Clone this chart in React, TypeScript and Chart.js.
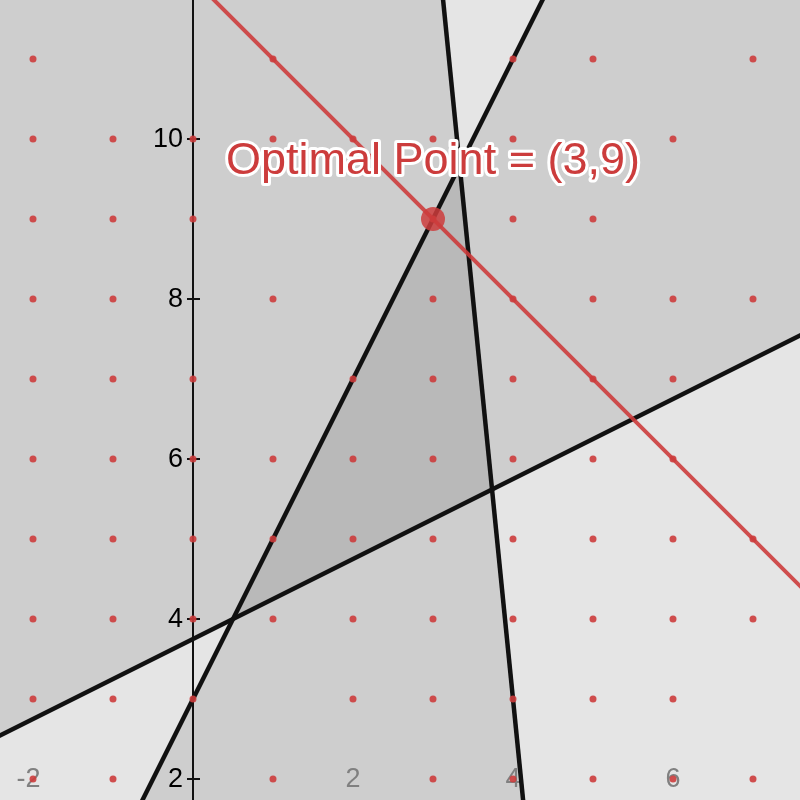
import React, { useEffect, useRef } from 'react';
import { Chart, registerables } from 'chart.js';

Chart.register(...registerables);

// Visible window (data units)
const X_RANGE: number[] = [-2.4125, 7.5875];
const Y_RANGE: number[] = [1.7375, 11.7375];

// Lattice dots: one row per y value, with the x values that carry a dot
const dotRowY: number[] = [11, 10, 9, 8, 7, 6, 5, 4, 3, 2];
const dotRowX: number[][] = [
  [-2, 1, 4, 5, 7],
  [-2, -1, 0, 1, 2, 3, 4, 6],
  [-2, -1, 0, 3, 4, 5],
  [-2, -1, 1, 3, 4, 5, 6, 7],
  [-2, -1, 0, 2, 3, 4, 5, 6],
  [-2, -1, 0, 1, 2, 3, 4, 5, 6],
  [-2, -1, 0, 1, 2, 3, 4, 5, 6, 7],
  [-2, -1, 0, 1, 2, 3, 4, 5, 6, 7],
  [-2, -1, 0, 2, 3, 4, 5, 6],
  [-2, -1, 1, 3, 4, 5, 6, 7],
];

// Constraint lines (end points) : y = 2x + 3, y = 0.5x + 3.75, 10x + y = 43
const lineAX: number[] = [-3, 8];
const lineAY: number[] = [-3, 19];
const lineBX: number[] = [-3, 8];
const lineBY: number[] = [2.25, 7.75];
const lineCX: number[] = [-3, 5];
const lineCY: number[] = [73, -7];
// Objective line x + y = 12
const objX: number[] = [-3, 9];
const objY: number[] = [15, 3];

// Optimal point
const optimalX: number[] = [3];
const optimalY: number[] = [9];
const optimalLabel = 'Optimal Point = (3,9)';

// Axis labels
const yTicks: number[] = [2, 4, 6, 8, 10];
const xTickLabels: number[] = [-2, 2, 4, 6];
const xLabelRowY = 2;

const RED = 'rgba(204, 60, 60, 0.9)';
const SHADE = 'rgba(0, 0, 0, 0.1)';
const FONT = '"Liberation Sans", Arial, sans-serif';

const pts = (xs: number[], ys: number[]) => xs.map((x, i) => ({ x, y: ys[i] }));

const axesPlugin = {
  id: 'customAxes',
  beforeDatasetsDraw(chart: any) {
    const { ctx, chartArea } = chart;
    const xs = chart.scales.x;
    const ys = chart.scales.y;
    const x0 = xs.getPixelForValue(0);
    ctx.save();
    ctx.strokeStyle = '#111';
    ctx.lineWidth = 2;
    ctx.beginPath();
    ctx.moveTo(x0, chartArea.top);
    ctx.lineTo(x0, chartArea.bottom);
    ctx.stroke();
    ctx.font = `27px ${FONT}`;
    ctx.textAlign = 'right';
    ctx.textBaseline = 'middle';
    ctx.fillStyle = '#000';
    for (const t of yTicks) {
      const py = ys.getPixelForValue(t);
      ctx.beginPath();
      ctx.moveTo(x0 - 6, py);
      ctx.lineTo(x0 + 7, py);
      ctx.stroke();
      ctx.fillText(String(t), x0 - 10, py + 1);
    }
    ctx.fillStyle = '#808080';
    ctx.textAlign = 'center';
    const ly = ys.getPixelForValue(xLabelRowY);
    const minusW = ctx.measureText('-').width;
    for (const t of xTickLabels) {
      const shift = t < 0 ? minusW / 2 : 0;
      ctx.fillText(String(t), xs.getPixelForValue(t) - shift, ly + 1);
    }
    ctx.restore();
  },
  afterDatasetsDraw(chart: any) {
    const { ctx } = chart;
    const px = chart.scales.x.getPixelForValue(optimalX[0]);
    const py = chart.scales.y.getPixelForValue(optimalY[0]);
    ctx.save();
    ctx.font = `45px ${FONT}`;
    ctx.textAlign = 'center';
    ctx.textBaseline = 'middle';
    ctx.lineJoin = 'round';
    ctx.lineWidth = 6;
    ctx.strokeStyle = '#ffffff';
    ctx.strokeText(optimalLabel, px, py - 57);
    ctx.fillStyle = 'rgb(204, 60, 60)';
    ctx.fillText(optimalLabel, px, py - 57);
    ctx.restore();
  },
};

export default function App() {
  const ref = useRef<HTMLCanvasElement>(null);
  useEffect(() => {
    document.body.style.margin = '0';
    const dots: { x: number; y: number }[] = [];
    dotRowY.forEach((y, i) => dotRowX[i].forEach((x) => dots.push({ x, y })));
    const lineDs = (xs: number[], ys: number[], fill: any, color: string, width: number) => ({
      type: 'line' as const,
      data: pts(xs, ys),
      borderColor: color,
      borderWidth: width,
      backgroundColor: SHADE,
      fill,
      pointRadius: 0,
      tension: 0,
    });
    const chart = new Chart(ref.current!, {
      type: 'scatter',
      data: {
        datasets: [
          {
            data: pts(optimalX, optimalY),
            pointRadius: 12,
            pointBackgroundColor: 'rgba(204, 60, 60, 0.85)',
            pointBorderWidth: 0,
          } as any,
          {
            data: dots,
            pointRadius: 3.5,
            pointBackgroundColor: RED,
            pointBorderWidth: 0,
          } as any,
          lineDs(objX, objY, false, RED, 4),
          lineDs(lineAX, lineAY, 'start', '#111', 4.5),
          lineDs(lineBX, lineBY, 'end', '#111', 4.5),
          lineDs(lineCX, lineCY, 'start', '#111', 4.5),
        ],
      },
      options: {
        animation: false,
        responsive: false,
        maintainAspectRatio: false,
        layout: { padding: 0, autoPadding: false },
        scales: {
          x: { type: 'linear', min: X_RANGE[0], max: X_RANGE[1], display: false },
          y: { type: 'linear', min: Y_RANGE[0], max: Y_RANGE[1], display: false },
        },
        plugins: {
          legend: { display: false },
          tooltip: { enabled: false },
          filler: { drawTime: 'beforeDatasetsDraw' } as any,
        },
      },
      plugins: [axesPlugin],
    });
    return () => chart.destroy();
  }, []);
  return (
    <div style={{ width: 800, height: 800, background: '#ffffff' }}>
      <canvas ref={ref} width={800} height={800} style={{ display: 'block', width: 800, height: 800 }} />
    </div>
  );
}
